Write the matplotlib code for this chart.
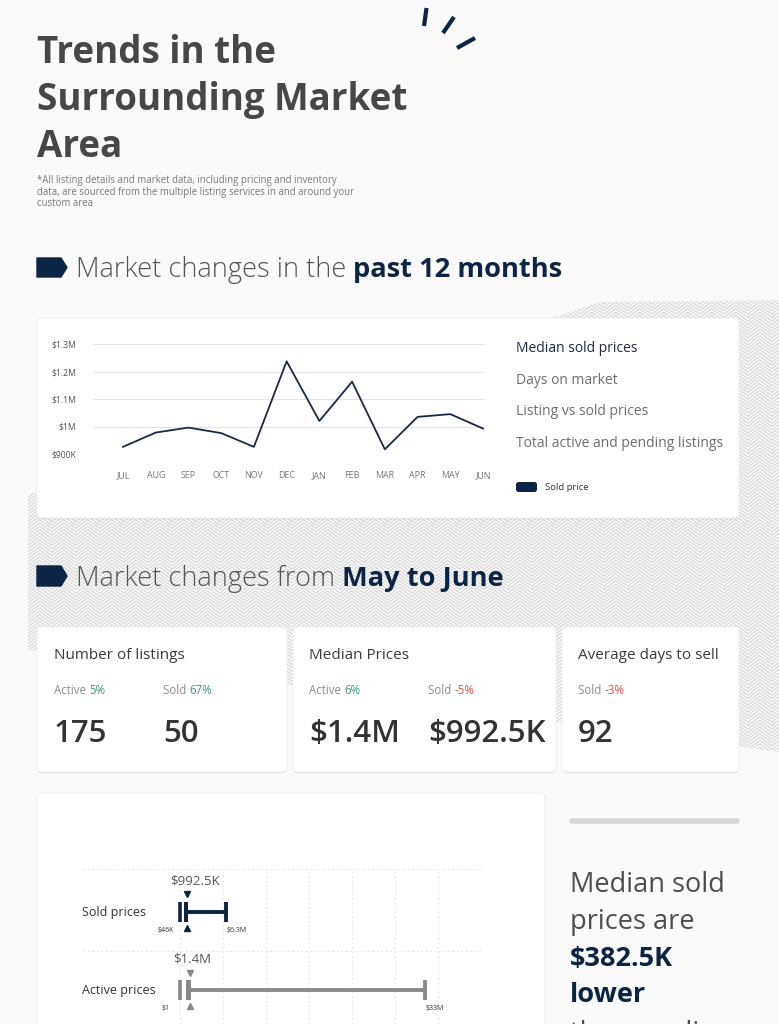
import numpy as np
import matplotlib
matplotlib.use("Agg")
import matplotlib.pyplot as plt
from matplotlib.patches import FancyBboxPatch, Polygon, Rectangle
from matplotlib.collections import LineCollection
from matplotlib import transforms

plt.rcParams['font.family'] = ['Open Sans', 'DejaVu Sans']

W, H = 779, 1024
NAVY = '#0c2446'
DARK = '#3a3a3a'
GRAY = '#7a7a7a'
GREEN = '#3d9a72'
RED = '#e0524f'

# line chart data (sold price, thousands)
months = ['JUL', 'AUG', 'SEP', 'OCT', 'NOV', 'DEC', 'JAN', 'FEB', 'MAR', 'APR', 'MAY', 'JUN']
sold_prices = [926, 978, 996, 976, 926, 1237, 1020, 1163, 917, 1035, 1045, 992.5]
y_ticks = [900, 1000, 1100, 1200, 1300]
y_tick_labels = ['$900K', '$1M', '$1.1M', '$1.2M', '$1.3M']
menu_items = ['Median sold prices', 'Days on market', 'Listing vs sold prices',
              'Total active and pending listings']

# stat cards
stat_titles = ['Number of listings', 'Median Prices', 'Average days to sell']
listing_labels = ['Active', 'Sold']
listing_changes = ['5%', '67%']
listing_values = ['175', '50']
price_labels = ['Active', 'Sold']
price_changes = ['6%', '-5%']
price_values = ['$1.4M', '$992.5K']
days_labels = ['Sold']
days_changes = ['-3%']
days_values = ['92']

# price ranges ($M)
range_labels = ['Sold prices', 'Active prices']
range_min = [0.046, 0.000001]
range_q1 = [0.6, 0.85]
range_q3 = [1.1, 1.5]
range_max = [6.3, 33]
range_median = [0.9925, 1.4]
median_text = ['$992.5K', '$1.4M']
min_text = ['$46K', '$1']
max_text = ['$6.3M', '$33M']
range_colors = [NAVY, '#8a8a8a']

fig = plt.figure(figsize=(W / 100, H / 100), dpi=100)
fig.patch.set_facecolor('#fafafa')

bg = fig.add_axes([0, 0, 1, 1])
bg.set_xlim(0, W)
bg.set_ylim(H, 0)
bg.axis('off')


def axes_at(x0, y0, x1, y1):
    return fig.add_axes([x0 / W, 1 - y1 / H, (x1 - x0) / W, (y1 - y0) / H])


def card(x0, y0, x1, y1):
    sh = FancyBboxPatch((x0, y0 + 1.5), x1 - x0, y1 - y0,
                        boxstyle='round,pad=0,rounding_size=5',
                        fc='#000000', ec='none', alpha=0.06, zorder=2)
    bg.add_patch(sh)
    p = FancyBboxPatch((x0, y0), x1 - x0, y1 - y0,
                       boxstyle='round,pad=0,rounding_size=5',
                       fc='white', ec='#eeeeee', lw=0.6, zorder=3)
    bg.add_patch(p)


def runs(x, y, parts, **kw):
    r = fig.canvas.get_renderer()
    for txt, props in parts:
        t = bg.text(x, y, txt, va='baseline', zorder=5, **props, **kw)
        x = x + t.get_window_extent(renderer=r).width
    return x


# herringbone background
region = Polygon([(28, 495), (600, 302), (779, 300), (779, 752), (28, 650)],
                 closed=True, fc='none', ec='none')
bg.add_patch(region)
segs = []
cw = 12
for i, cx in enumerate(np.arange(28, 779, cw)):
    rise = 9 if i % 2 == 0 else -9
    off = 0 if i % 2 == 0 else 1.7
    for yy in np.arange(280 + off, 790, 3.4):
        segs.append([(cx, yy), (cx + cw, yy - rise)])
lc = LineCollection(segs, colors='#cfcfcf', linewidths=0.65, zorder=1)
lc.set_clip_path(region)
bg.add_collection(lc)

# header
for txt, yb in zip(['Trends in the', 'Surrounding Market', 'Area'], [63, 110, 157]):
    bg.text(37, yb, txt, fontsize=26.5, fontweight='bold', color='#474747', va='baseline')
for txt, yb in zip(['*All listing details and market data, including pricing and inventory',
                    'data, are sourced from the multiple listing services in and around your',
                    'custom area'], [183, 195, 206]):
    bg.text(37, yb, txt, fontsize=6.95, color=GRAY, va='baseline')

# decorative strokes
for (xa, ya), (xb, yb) in [((426.5, 8), (424, 26)), ((454, 17), (443, 33)), ((475, 38), (457, 48))]:
    bg.plot([xa, xb], [ya, yb], color=NAVY, lw=3, solid_capstyle='butt')


def tag(y0, y1):
    pts = [(37, y0), (61, y0), (67, (y0 + y1) / 2), (61, y1), (37, y1)]
    bg.add_patch(Polygon(pts, closed=True, fc=NAVY, ec=NAVY, lw=1, joinstyle='round', zorder=5))


tag(258, 277)
runs(76, 277, [('Market changes in the ', dict(color='#555555', fontweight='light')),
               ('past 12 months', dict(color=NAVY, fontweight='bold'))], fontsize=19.6)
tag(566, 586)
runs(76, 586, [('Market changes from ', dict(color='#555555', fontweight='light')),
               ('May to June', dict(color=NAVY, fontweight='bold'))], fontsize=19.6)

# line chart card
card(37, 318, 739, 518)
ax = axes_at(93, 344, 484, 454)
ax.patch.set_alpha(0)
x = np.arange(len(months))
ax.plot(x, sold_prices, color='#1a2a44', lw=1.3, clip_on=False, zorder=3)
ax.set_xlim(-0.917, 11.03)
ax.set_ylim(900, 1300)
ax.set_yticks(y_ticks)
ax.set_yticklabels(y_tick_labels)
ax.set_xticks(x)
ax.set_xticklabels(months)
ax.tick_params(axis='y', length=0, pad=12, labelsize=6.2, labelcolor='#555555')
ax.tick_params(axis='x', length=0, pad=12, labelsize=6.4, labelcolor='#777777')
ax.grid(axis='y', color='#e4e4e4', lw=0.8)
ax.set_axisbelow(True)
for s in ax.spines.values():
    s.set_visible(False)

for i, (item, yb) in enumerate(zip(menu_items, [352, 383.5, 415, 447])):
    bg.text(516, yb, item, fontsize=10, color='#1c2b4a' if i == 0 else '#6e6e6e',
            va='baseline', zorder=5)
bg.add_patch(FancyBboxPatch((516, 482), 21, 10, boxstyle='round,pad=0,rounding_size=2.5',
                            fc=NAVY, ec='none', zorder=5))
bg.text(545, 487.5, 'Sold price', fontsize=6.8, color='#333333', va='center', zorder=5)

# stat cards
card(37, 627, 287, 772)
card(293, 627, 556, 772)
card(562, 627, 739, 772)
groups = [(54, stat_titles[0], listing_labels, listing_changes, listing_values, [54, 163]),
          (309, stat_titles[1], price_labels, price_changes, price_values, [309, 428]),
          (578, stat_titles[2], days_labels, days_changes, days_values, [578])]
for x0, title, labels, changes, values, xs in groups:
    bg.text(x0, 659, title, fontsize=11, color=DARK, va='baseline', zorder=5)
    for lab, ch, val, xx in zip(labels, changes, values, xs):
        col = RED if ch.startswith('-') else GREEN
        runs(xx, 694, [(lab + ' ', dict(color='#8c8c8c')), (ch, dict(color=col))], fontsize=8.3)
        bg.text(xx, 742, val, fontsize=22.5, fontweight='semibold', color='#333333',
                va='baseline', zorder=5)

# range chart card
card(37, 793, 545, 1040)
rx = axes_at(83, 869, 481, 1024)
rx.patch.set_alpha(0)
rx.set_xlim(-12.97, 40.5)
rx.set_ylim(1.43, -0.55)
rx.axis('off')
for gx in np.linspace(0, 40.5, 8):
    rx.axvline(gx, color='#e2e2e2', lw=0.8, ls=(0, (1.5, 2.5)), zorder=1)
for gy in [-0.55, 0.5]:
    rx.axhline(gy, color='#e2e2e2', lw=0.8, ls=(0, (1.5, 2.5)), zorder=1)
lbl_tr = transforms.blended_transform_factory(rx.transAxes, rx.transData)
for i, lab in enumerate(range_labels):
    c = range_colors[i]
    h = 0.255
    rx.text(-0.002, i, lab, transform=lbl_tr, fontsize=9, color='#333333', va='center', ha='left')
    rx.vlines(range_min[i], i - h / 2, i + h / 2, color=c, lw=2.6, zorder=3)
    rx.add_patch(Rectangle((range_q1[i], i - h / 2), range_q3[i] - range_q1[i], h,
                           fc=c, ec='none', zorder=3))
    rx.hlines(i, range_q3[i], range_max[i], color=c, lw=2.8, zorder=3)
    rx.vlines(range_max[i], i - h / 2, i + h / 2, color=c, lw=2.8, zorder=3)
    rx.plot(range_median[i], i - 0.225, marker='v', color=c, ms=4.5, zorder=4)
    rx.plot(range_median[i], i + 0.2, marker='^', color=c, ms=4.5, zorder=4)
    rx.annotate(median_text[i], (range_median[i], i - 0.4), xytext=(-12, 0),
                textcoords='offset points', fontsize=9.5, color='#555555',
                ha='left', va='center')
    rx.annotate(min_text[i], (range_min[i], i + 0.23), xytext=(-10, 0),
                textcoords='offset points', fontsize=5, color='#333333',
                ha='center', va='center')
    rx.annotate(max_text[i], (range_max[i], i + 0.23), xytext=(0, 0),
                textcoords='offset points', fontsize=5, color='#333333',
                ha='left', va='center')

# right summary text
bg.add_line(plt.Line2D([572, 737], [821, 821], color='#d6d6d6', lw=4, solid_capstyle='round'))
for txt, yb, col, wt in [('Median sold', 892, '#4d4d4d', 'normal'),
                         ('prices are', 928.5, '#4d4d4d', 'normal'),
                         ('$382.5K', 966, NAVY, 'bold'),
                         ('lower', 1002, NAVY, 'bold'),
                         ('than median', 1041, '#4d4d4d', 'normal')]:
    bg.text(570, yb, txt, fontsize=19.5, color=col, fontweight=wt, va='baseline')

fig.savefig('out.png', dpi=100)
